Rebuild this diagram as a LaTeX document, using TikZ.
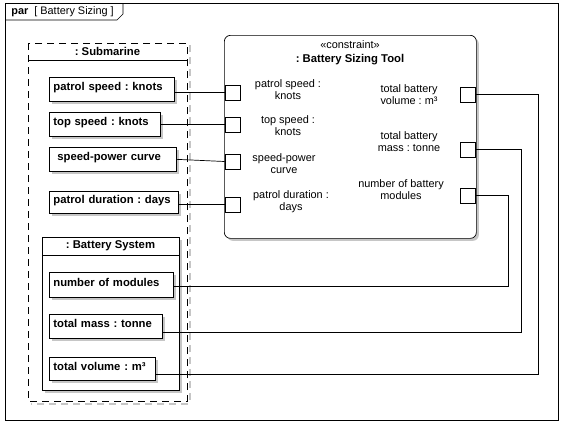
\documentclass[tikz,border=0pt]{standalone}
\usepackage{fontspec}
\setmainfont{Liberation Sans}
\usetikzlibrary{positioning,shadows}

\newcommand{\rg}{\fontsize{10.9}{12}\selectfont}
\newcommand{\bd}{\fontsize{11.3}{13}\selectfont\bfseries}
\frenchspacing

\begin{document}
\begin{tikzpicture}[x=1pt,y=-1pt,line width=0.7pt,
    shd/.style={drop shadow={shadow xshift=2.5pt,shadow yshift=-2.5pt,fill=gray!45,draw=none,opacity=1}},
    prop/.style={draw,fill=white,shd,anchor=north west,inner xsep=4pt,inner ysep=0pt,
        text height=8pt,text depth=5pt,font=\bd,align=left},
    port/.style={draw,fill=white,minimum size=15pt,inner sep=0pt},
    lbl/.style={font=\rg,align=center,inner sep=0pt}]
    \useasboundingbox (0,0) rectangle (564,426);

    % Cornice del diagramma
    \draw (5,3) rectangle (558,420);
    \draw (5,20) -- (117,20) -- (123,14) -- (123,3);
    \node[anchor=west,font=\rg,inner sep=0pt] (tab) at (11,12) {\textbf{par}\ \ [ Battery Sizing ]};

    % Blocco Submarine
    \draw[gray!45,line width=2pt,dash pattern=on 7pt off 5pt] (189.5,45) -- (189.5,403.5) -- (31,403.5);
    \draw[dash pattern=on 7pt off 5pt] (28,43) rectangle (187,401);
    \draw (28,60) -- (187,60);
    \node[font=\bd] (sub) at (107.5,51.5) {: Submarine};

    \node[prop,text width=117pt,minimum height=24pt] (ps) at (49,77) {patrol speed : knots};
    \node[prop,text width=103pt,minimum height=24pt] (ts) at (49,112) {top speed : knots};
    \node[prop,text width=119pt,minimum height=24pt] (sp) at (49,147) {\hspace{4pt}speed-power curve};
    \node[prop,text width=121pt,minimum height=22pt] (pd) at (49,191) {patrol duration : days};

    % Blocco Battery System
    \node[draw,fill=white,shd,anchor=north west,minimum width=137pt,minimum height=153pt] (bat) at (42,237) {};
    \draw (bat.west |- 0,255) -- (bat.east |- 0,255);
    \node[font=\bd] (bs) at (110.5,246) {: Battery System};

    \node[prop,text width=116pt,minimum height=25pt] (nm) at (49,272) {number of modules};
    \node[prop,text width=105pt,minimum height=24pt] (tm) at (49,314) {total mass : tonne};
    \node[prop,text width=98pt,minimum height=23pt] (tv) at (49,357) {total volume : m³};

    % Vincolo Battery Sizing Tool
    \node[draw,fill=white,shd,rounded corners=6pt,anchor=north west,
        minimum width=252pt,minimum height=203pt] (bst) at (224,35) {};
    \node[font=\rg] (st) at (350,45) {«constraint»};
    \node[font=\bd] (bt) at (350,59.5) {: Battery Sizing Tool};

    % Porte
    \node[port] (pi1) at (232.5,92.5) {};
    \node[port] (pi2) at (232.5,124.5) {};
    \node[port] (pi3) at (232.5,161.5) {};
    \node[port] (pi4) at (232.5,204.5) {};
    \node[port] (po1) at (467.5,94.5) {};
    \node[port] (po2) at (467.5,149.5) {};
    \node[port] (po3) at (467.5,195.5) {};

    \node[lbl] (l1) at (288,90) {patrol speed :\\knots};
    \node[lbl] (l2) at (288,126) {top speed :\\knots};
    \node[lbl] (l3) at (284,164) {speed-power\\curve};
    \node[lbl] (l4) at (291,202) {patrol duration :\\days};
    \node[lbl] (r1) at (409,94.5) {total battery\\volume : m³};
    \node[lbl] (r2) at (409,142) {total battery\\mass : tonne};
    \node[lbl] (r3) at (401,190) {number of battery\\modules};

    % Connettori
    \draw (pi1.west -| ps.east) -- (pi1.west);
    \draw (pi2.west -| ts.east) -- (pi2.west);
    \draw (sp.east) -- (pi3.west);
    \draw (pi4.west -| pd.east) -- (pi4.west);

    \coordinate (c1) at (538,374);
    \coordinate (c2) at (521,332);
    \coordinate (c3) at (508,286);
    \draw (po1.east) -| (c1) -- (c1 -| tv.east);
    \draw (po2.east) -| (c2) -- (c2 -| tm.east);
    \draw (po3.east) -| (c3) -- (c3 -| nm.east);
\end{tikzpicture}
\end{document}
